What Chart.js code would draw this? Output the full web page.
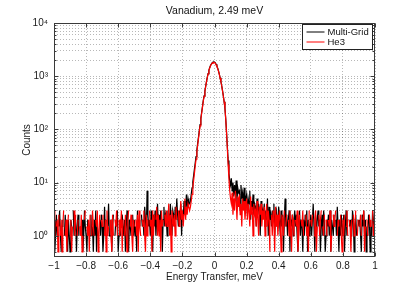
<!DOCTYPE html>
<html>
<head>
<meta charset="utf-8">
<title>Vanadium, 2.49 meV</title>
<script src="https://cdn.jsdelivr.net/npm/chart.js@4.4.1/dist/chart.umd.min.js"></script>
<style>
  html, body { margin: 0; padding: 0; background: #fff; }
  #wrap { width: 415px; height: 290px; }
</style>
</head>
<body>
<div id="wrap"><canvas id="vanadium" width="415" height="290"></canvas></div>
<script>
// energy bins, -1 .. 1 meV
const E_MIN = -1;
const E_STEP = 0.005;
const N_BINS = 401;
const energy = Array.from({ length: N_BINS }, (_, i) => +(E_MIN + i * E_STEP).toFixed(3));

// Multi-Grid counts (0 = empty bin)
// -1.000 .. -0.160
const multiGridLeft = [
  2, 0.5, 1, 2.5, 1, 0, 1.5, 3, 1, 0.5,
  1.5, 2, 0, 1, 2.5, 1, 1.5, 0.5, 2, 1,
  0.5, 2, 1.5, 0, 3, 1, 1, 2, 0.5, 1.5,
  2.5, 1, 0, 1.5, 1, 2, 0.5, 1, 3, 1.5,
  1, 0.5, 2, 1.5, 0, 1, 2.5, 1, 1.5, 0.5,
  2, 1, 3, 0.5, 1.5, 1, 0, 2, 1, 2.5,
  1.5, 0.5, 1, 3.5, 1, 2, 0, 1.5, 4, 1,
  1, 2, 0.5, 1.5, 2.5, 0, 1, 2, 1.5, 3,
  0.5, 1, 2, 1, 0, 2.5, 1.5, 1, 2, 0.5,
  1.5, 3, 1, 0.5, 2, 1.5, 1, 0, 2.5, 1,
  2, 1, 1.5, 0.5, 3, 1, 2, 1.5, 0, 2.5,
  1.5, 2, 1, 3.5, 2, 1, 7, 2.5, 1.5, 2,
  1, 3, 2, 0.5, 2.5, 1.5, 3, 1, 2, 4,
  1.5, 2.5, 1, 3, 2, 0.5, 2, 3.5, 1.5, 2.5,
  2, 1, 3, 2.5, 1.5, 4, 2, 1, 3, 2.5,
  1.5, 3.5, 2, 5, 2.5, 1.5, 3, 2, 4, 1,
  3, 2, 4.5, 2.5, 3.5, 6, 3, 5,
  4
];
// -0.155 .. 0.100
const multiGridPeak = [
  4, 4.5, 6, 8, 10.5, 13.5, 18, 23.5, 31, 41,
  54, 71, 93, 123, 162, 209, 269, 347, 427, 525,
  646, 794, 955, 1122, 1288, 1445, 1585, 1698, 1778, 1841,
  1862,
  1841, 1778, 1679, 1549, 1413, 1259, 1096, 933, 794, 661,
  537, 427, 331, 251, 158, 89, 48, 26, 15, 11,
  9
];
// 0.105 .. 1.000
const multiGridRight = [
  12, 7, 10, 5.5, 9, 6, 11, 4.5, 8, 6.5,
  7, 3, 9, 5, 6.5, 4, 8, 3.5, 5, 6,
  2.5, 5, 4, 7, 2, 4.5, 3, 6, 2.5, 4,
  3.5, 1.5, 5, 2.5, 4, 3, 1, 4.5, 2, 3,
  2.5, 4, 1.5, 3, 2, 5, 1, 3.5, 2, 2.5,
  1.5, 3, 2, 4, 1, 2.5, 3, 1.5, 2, 3.5,
  2, 1, 3, 1.5, 2.5, 0.5, 2, 5, 1.5, 2.5,
  1, 2, 3, 0.5, 2, 1.5, 2.5, 1, 2, 3,
  1.5, 2.5, 1, 0.5, 2, 3, 1, 2, 1.5, 0.5,
  2, 1, 2.5, 1.5, 3, 0.5, 2, 1, 1.5, 2.5,
  1, 2, 4, 1.5, 0.5, 2.5, 1, 2, 3, 1.5,
  2, 0.5, 1.5, 2.5, 1, 3, 2, 0.5, 1, 2,
  1.5, 2.5, 1, 3, 0.5, 2, 1.5, 1, 2.5, 0,
  2, 1, 3.5, 1.5, 0.5, 2, 1, 2.5, 1.5, 1,
  2.5, 0.5, 1.5, 3, 1, 2, 0, 1.5, 2, 1,
  1, 3, 2, 0.5, 1.5, 2.5, 1, 0, 2, 1.5,
  2, 1, 0.5, 2.5, 1.5, 3, 1, 2, 0.5, 1.5,
  1, 2.5, 2, 0.5, 1.5, 1, 3, 2, 1, 1.5
];

// He3 counts
const he3Left = [
  1, 3, 0, 1.5, 2, 0.5, 2.5, 0, 1, 2,
  0.5, 1.5, 3, 0, 1, 2, 0.5, 1.5, 2.5, 0,
  1, 2, 0.5, 1.5, 0, 3, 1, 2.5, 0, 1,
  2, 0, 1.5, 1, 2.5, 0.5, 1, 0, 2, 3,
  0, 1.5, 1, 2, 0.5, 2.5, 0, 1, 3, 1.5,
  1, 0, 2, 1.5, 3, 0.5, 1, 2.5, 0, 2,
  1.5, 2.5, 0, 1, 2, 0.5, 3, 1, 1.5, 0,
  2, 1, 0.5, 2.5, 1, 0, 2, 1.5, 3, 1,
  0, 2, 1, 1.5, 3, 0.5, 2, 0, 1, 2.5,
  1, 0.5, 2, 3, 0, 1.5, 2.5, 1, 0.5, 2,
  1.5, 0, 2, 1, 2.5, 0.5, 3, 1.5, 1, 0,
  2, 1.5, 3, 1, 0.5, 2.5, 1, 2, 0, 3,
  1.5, 2, 0.5, 3, 1, 2.5, 0, 2, 3.5, 1,
  2.5, 1, 2, 0.5, 3, 1.5, 2, 0, 2.5, 1.5,
  3, 1.5, 2, 4, 1, 2.5, 0.5, 3, 2, 1.5,
  2.5, 1, 3.5, 2, 0, 3, 1.5, 2.5, 4.5, 2,
  3, 1.5, 2.5, 5, 2, 3.5, 2.5, 4,
  3.5
];
const he3Peak = [
  3, 3.5, 4.5, 6, 8, 11, 15, 20.5, 27.5, 37,
  50, 66.5, 88, 117, 155, 201, 260, 337, 418, 515,
  636, 783, 943, 1108, 1270, 1425, 1562, 1671, 1748, 1806,
  1822,
  1800, 1741, 1645, 1520, 1388, 1240, 1080, 921, 785, 655,
  532, 424, 330, 250, 156, 86, 44, 22, 11.5, 7,
  5
];
const he3Right = [
  4, 6.5, 2.5, 5, 3, 7, 4.5, 2, 5.5, 3.5,
  6, 2.5, 4, 1.5, 5, 3, 4.5, 2, 3.5, 5,
  2, 4, 3, 1.5, 5.5, 2.5, 3.5, 1, 4, 2.5,
  3, 1.5, 4.5, 2, 1, 3.5, 2.5, 4, 1.5, 3,
  2, 3.5, 1, 2.5, 4, 1.5, 3, 2, 0.5, 0,
  2.5, 1, 3, 2, 0.5, 3.5, 1.5, 2.5, 1, 2,
  3, 1.5, 0.5, 2.5, 2, 1, 3, 0, 1.5, 2.5,
  0, 2, 1, 3, 1.5, 0.5, 2.5, 2, 1, 0,
  2, 1.5, 3, 0.5, 1, 2.5, 0, 2, 1.5, 3,
  1, 0, 2, 2.5, 1, 1.5, 0.5, 3, 0, 2,
  1.5, 2.5, 0, 1, 2, 3, 0.5, 1.5, 0, 2.5,
  1, 2, 3, 0, 1.5, 1, 2.5, 0, 2, 1,
  0, 2, 1.5, 3, 0.5, 1, 0, 2.5, 1.5, 2,
  3, 0, 1, 2, 1.5, 0, 2.5, 1, 0.5, 2,
  1, 2.5, 0, 1.5, 3, 1, 0, 2, 1.5, 0.5,
  2, 0, 2.5, 1, 1.5, 3, 0, 1, 2, 0,
  1.5, 2.5, 1, 0, 2, 3, 0.5, 1.5, 0, 2,
  1, 0, 2.5, 1.5, 2, 0, 3, 1, 1.5, 2
];

const multiGrid = multiGridLeft.concat(multiGridPeak, multiGridRight);
const he3 = he3Left.concat(he3Peak, he3Right);

const xTicks = [-1, -0.8, -0.6, -0.4, -0.2, 0, 0.2, 0.4, 0.6, 0.8, 1];
const xTickLabels = ['\u22121', '\u22120.8', '\u22120.6', '\u22120.4', '\u22120.2', '0', '0.2', '0.4', '0.6', '0.8', '1'];
const yTickLabels = ['10\u2070', '10\u00b9', '10\u00b2', '10\u00b3', '10\u2074'];
const Y_MIN = 0.4;
const Y_MAX = 10000;

const TITLE = 'Vanadium, 2.49 meV';
const FONT = "'Liberation Sans', Arial, Helvetica, sans-serif";
const GRID = 'rgba(0,0,0,0.28)';

const isDecade = (v) => Math.abs(Math.log10(v) - Math.round(Math.log10(v))) < 1e-6;

// matlab-ish box, inward ticks, legend and title
const axesBox = {
  id: 'axesBox',
  afterDatasetsDraw(chart) {
    const { ctx, chartArea: a, scales: { x, y } } = chart;
    const L = Math.round(a.left) + 0.5, R = Math.round(a.right) - 0.5;
    const T = Math.round(a.top) + 0.5, B = Math.round(a.bottom) - 0.5;
    ctx.save();
    ctx.strokeStyle = '#3a3a3a';
    ctx.lineWidth = 1;
    ctx.beginPath();
    x.ticks.forEach(t => {
      const px = Math.round(x.getPixelForValue(t.value)) + 0.5;
      ctx.moveTo(px, B); ctx.lineTo(px, B - 4);
      ctx.moveTo(px, T); ctx.lineTo(px, T + 4);
    });
    y.ticks.forEach(t => {
      const py = Math.round(y.getPixelForValue(t.value)) + 0.5;
      const len = isDecade(t.value) ? 4 : 2;
      ctx.moveTo(L, py); ctx.lineTo(L + len, py);
      ctx.moveTo(R, py); ctx.lineTo(R - len, py);
    });
    ctx.stroke();
    ctx.strokeRect(L, T, R - L, B - T);
    ctx.restore();
  },
  afterDraw(chart) {
    const { ctx, chartArea: a } = chart;
    ctx.save();
    // legend
    const bx = Math.round(a.right) - 72.5, by = Math.round(a.top) + 1.5;
    ctx.fillStyle = '#fff';
    ctx.fillRect(bx, by, 70, 25);
    ctx.strokeStyle = '#222';
    ctx.lineWidth = 1;
    ctx.strokeRect(bx, by, 70, 25);
    ctx.font = `9.5px ${FONT}`;
    ctx.textBaseline = 'middle';
    ctx.textAlign = 'left';
    chart.data.datasets.forEach((ds, i) => {
      const ly = by + 7.5 + i * 10;
      ctx.strokeStyle = ds.borderColor;
      ctx.beginPath();
      ctx.moveTo(bx + 4, ly); ctx.lineTo(bx + 22, ly);
      ctx.stroke();
      ctx.fillStyle = '#111';
      ctx.fillText(ds.label, bx + 25, ly);
    });
    // title
    ctx.font = `10.5px ${FONT}`;
    ctx.textAlign = 'center';
    ctx.fillText(TITLE, (a.left + a.right) / 2, 11.5);
    ctx.restore();
  }
};

Chart.defaults.font.family = FONT;
Chart.defaults.color = '#1a1a1a';

new Chart(document.getElementById('vanadium').getContext('2d'), {
  type: 'line',
  data: {
    datasets: [
      {
        label: 'Multi-Grid',
        data: energy.map((e, i) => ({ x: e, y: multiGrid[i] })),
        borderColor: '#000000',
        borderWidth: 1.2,
        order: 1
      },
      {
        label: 'He3',
        data: energy.map((e, i) => ({ x: e, y: he3[i] })),
        borderColor: '#ff0000',
        borderWidth: 1.2,
        order: 0
      }
    ]
  },
  options: {
    responsive: false,
    animation: false,
    layout: { padding: { top: 23, right: 40, left: 0, bottom: 0 } },
    elements: { point: { radius: 0 }, line: { tension: 0 } },
    plugins: { legend: { display: false }, tooltip: { enabled: false } },
    scales: {
      x: {
        type: 'linear',
        min: -1,
        max: 1,
        afterBuildTicks: (scale) => { scale.ticks = xTicks.map(v => ({ value: v })); },
        afterFit: (scale) => { scale.height = 33; },
        ticks: {
          autoSkip: false,
          maxRotation: 0,
          padding: 3,
          font: { size: 10 },
          callback: (value, index) => xTickLabels[index]
        },
        grid: { color: GRID, drawTicks: false, borderDash: [1, 2] },
        border: { display: false, dash: [1, 2] },
        title: { display: true, text: 'Energy Transfer, meV', font: { size: 10 }, padding: { top: 0, bottom: 7 } }
      },
      y: {
        type: 'logarithmic',
        min: Y_MIN,
        max: Y_MAX,
        afterBuildTicks: (scale) => {
          const vals = [];
          for (let e = -1; e <= 3; e++) {
            for (let k = 1; k <= 9; k++) {
              const v = k * Math.pow(10, e);
              if (v > Y_MIN * 1.01 && v < Y_MAX) vals.push(v);
            }
          }
          vals.push(Y_MAX);
          scale.ticks = vals.map(v => ({ value: v }));
        },
        afterFit: (scale) => { scale.width = 54; },
        ticks: {
          autoSkip: false,
          padding: 6,
          font: { size: 10 },
          callback: (value) => isDecade(value) ? yTickLabels[Math.round(Math.log10(value))] : ''
        },
        grid: { color: GRID, drawTicks: false, borderDash: [1, 2] },
        border: { display: false, dash: [1, 2] },
        title: { display: true, text: 'Counts', font: { size: 10 }, padding: { top: 21, bottom: 0 } }
      }
    }
  },
  plugins: [axesBox]
});
</script>
</body>
</html>
